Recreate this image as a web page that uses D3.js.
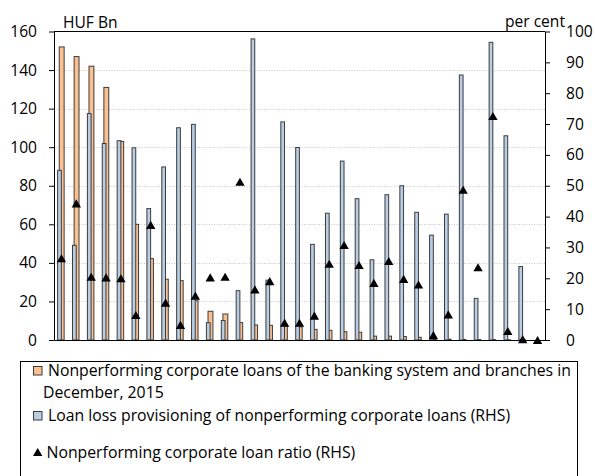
<!DOCTYPE html>
<html>
<head>
<meta charset="utf-8">
<script src="https://cdn.jsdelivr.net/npm/d3@7"></script>
<style>
  body { margin: 0; background: #fff; }
  svg { display: block; }
  text { font-family: "Open Sans", sans-serif; fill: #000; }
</style>
</head>
<body>
<svg id="chart" width="595" height="476"></svg>
<script>
// Banks, ordered by the size of their nonperforming corporate portfolio
const banks = ["1","2","3","4","5","6","7","8","9","10","11","12","13","14","15","16","17",
               "18","19","20","21","22","23","24","25","26","27","28","29","30","31","32","33"];

// Nonperforming corporate loans, HUF Bn (left axis)
const nplAmount = [152, 147, 142, 131, 103, 60, 42.2, 31.5, 30.8, 20.4, 14.9, 13.5, 9.0, 7.8, 7.6,
                   7.3, 6.8, 5.5, 5.0, 4.3, 4.0, 2.0, 2.0, 1.8, 1.4, 0.5, 0.4, 0.3, 0.2, 0.2, 0.1, 0.1, 0];

// Loan loss provisioning of nonperforming corporate loans, per cent (right axis)
const provisioning = [55.0, 30.7, 73.4, 63.7, 64.6, 62.3, 42.6, 56.1, 68.8, 69.9, 5.6, 6.3, 16.0, 97.6,
                      19.4, 70.7, 62.4, 31.0, 41.1, 58.0, 45.8, 26.0, 47.1, 50.0, 41.4, 34.0, 40.8,
                      85.9, 13.5, 96.5, 66.2, 23.8, 0];

// Nonperforming corporate loan ratio, per cent (right axis)
const nplRatio = [26.5, 44.3, 20.5, 20.3, 20.0, 8.1, 37.3, 12.1, 4.9, 14.4, 20.3, 20.5, 51.3, 16.4,
                  19.1, 5.6, 5.6, 7.9, 24.7, 30.8, 24.3, 18.5, 25.6, 19.8, 18.0, 1.6, 8.3, 48.7,
                  23.6, 72.6, 2.9, 0.3, 0];

const leftTicks = [0, 20, 40, 60, 80, 100, 120, 140, 160];
const rightTicks = [0, 10, 20, 30, 40, 50, 60, 70, 80, 90, 100];

const legendAmount = ["Nonperforming corporate loans of the banking system and branches in",
                      "December, 2015"];
const legendProvision = "Loan loss provisioning of nonperforming corporate loans (RHS)";
const legendRatio = "Nonperforming corporate loan ratio (RHS)";

const ORANGE = "#FAC090", BLUE = "#B9CDE5", EDGE = "#3c3c3c";
const FONT_AXIS = "15.6px", FONT_LEGEND = "15.8px";
const plot = { left: 54, right: 545, top: 31.5, bottom: 340 };

const svg = d3.select("#chart");

const x = d3.scaleBand().domain(banks).range([plot.left, plot.right]);
const yL = d3.scaleLinear().domain([0, 160]).range([plot.bottom, plot.top]);
const yR = d3.scaleLinear().domain([0, 100]).range([plot.bottom, plot.top]);
const centre = b => x(b) + x.bandwidth() / 2;

// dotted gridlines on the left-axis ticks
svg.append("g").selectAll("line")
  .data(leftTicks.filter(v => v > 0 && v < 160))
  .join("line")
  .attr("x1", plot.left).attr("x2", plot.right)
  .attr("y1", d => Math.round(yL(d)) + 0.5).attr("y2", d => Math.round(yL(d)) + 0.5)
  .attr("stroke", "#c8c8c8").attr("stroke-width", 1).attr("stroke-dasharray", "1,1.5");

// top frame line
svg.append("line")
  .attr("x1", plot.left).attr("x2", plot.right)
  .attr("y1", yL(160)).attr("y2", yL(160))
  .attr("stroke", "#000").attr("stroke-width", 1);

// orange bars (left axis), drawn behind
svg.append("g").selectAll("rect")
  .data(banks.map((b, i) => ({ b, v: nplAmount[i] })))
  .join("rect")
  .attr("x", d => centre(d.b) - 2.2)
  .attr("width", 4.9)
  .attr("y", d => yL(d.v))
  .attr("height", d => yL(0) - yL(d.v))
  .attr("fill", ORANGE).attr("stroke", EDGE).attr("stroke-width", 1);

// blue bars (right axis), in front
svg.append("g").selectAll("rect")
  .data(banks.map((b, i) => ({ b, v: provisioning[i] })).filter(d => d.v > 0))
  .join("rect")
  .attr("x", d => centre(d.b) - 3.8)
  .attr("width", 3.7)
  .attr("y", d => yR(d.v))
  .attr("height", d => yR(0) - yR(d.v))
  .attr("fill", BLUE).attr("stroke", EDGE).attr("stroke-width", 1);

// axes
const axisL = svg.append("g").attr("transform", `translate(${plot.left},0)`)
  .call(d3.axisLeft(yL).tickValues(leftTicks).tickSize(5).tickSizeOuter(0).tickPadding(12));
const axisR = svg.append("g").attr("transform", `translate(${plot.right},0)`)
  .call(d3.axisRight(yR).tickValues(rightTicks).tickSize(5).tickSizeOuter(0).tickPadding(16));
const axisB = svg.append("g").attr("transform", `translate(0,${plot.bottom})`)
  .call(d3.axisBottom(x).tickSize(0).tickSizeOuter(0).tickFormat(""));
[axisL, axisR, axisB].forEach(g => {
  g.selectAll("path, line").attr("stroke", "#000");
  g.selectAll("text").style("font-family", "'Open Sans', sans-serif").style("font-size", FONT_AXIS).attr("fill", "#000");
});

// triangle marker centred on its bounding box
const triangle = {
  draw(ctx, size) {
    const w = Math.sqrt(size * 2.3), h = w * 0.87;
    ctx.moveTo(0, -h / 2);
    ctx.lineTo(w / 2, h / 2);
    ctx.lineTo(-w / 2, h / 2);
    ctx.closePath();
  }
};
const marker = d3.symbol().type(triangle).size(38);

svg.append("g").selectAll("path")
  .data(banks.map((b, i) => ({ b, v: nplRatio[i] })))
  .join("path")
  .attr("transform", d => `translate(${centre(d.b)},${yR(d.v)})`)
  .attr("d", marker)
  .attr("fill", "#000");

// axis titles
svg.append("text").attr("x", 63).attr("y", 28).style("font-size", FONT_AXIS).text("HUF Bn");
svg.append("text").attr("x", 565).attr("y", 27).attr("text-anchor", "end").style("font-size", FONT_AXIS).text("per cent");

// legend
const lg = svg.append("g");
lg.append("rect").attr("x", 20.5).attr("y", 361.5).attr("width", 557).attr("height", 130)
  .attr("fill", "none").attr("stroke", "#000").attr("stroke-width", 1);
lg.append("rect").attr("x", 33.5).attr("y", 366.5).attr("width", 8.5).attr("height", 8.5)
  .attr("fill", ORANGE).attr("stroke", EDGE);
lg.append("text").attr("x", 48).attr("y", 375.5).style("font-size", FONT_LEGEND).text(legendAmount[0]);
lg.append("text").attr("x", 43).attr("y", 398).style("font-size", FONT_LEGEND).text(legendAmount[1]);
lg.append("rect").attr("x", 33.5).attr("y", 411.5).attr("width", 8.5).attr("height", 8.5)
  .attr("fill", BLUE).attr("stroke", EDGE);
lg.append("text").attr("x", 48).attr("y", 420.5).style("font-size", FONT_LEGEND).text(legendProvision);
lg.append("path").attr("transform", "translate(37.7,452)").attr("d", marker).attr("fill", "#000");
lg.append("text").attr("x", 46.5).attr("y", 457.5).style("font-size", FONT_LEGEND).text(legendRatio);
</script>
</body>
</html>
